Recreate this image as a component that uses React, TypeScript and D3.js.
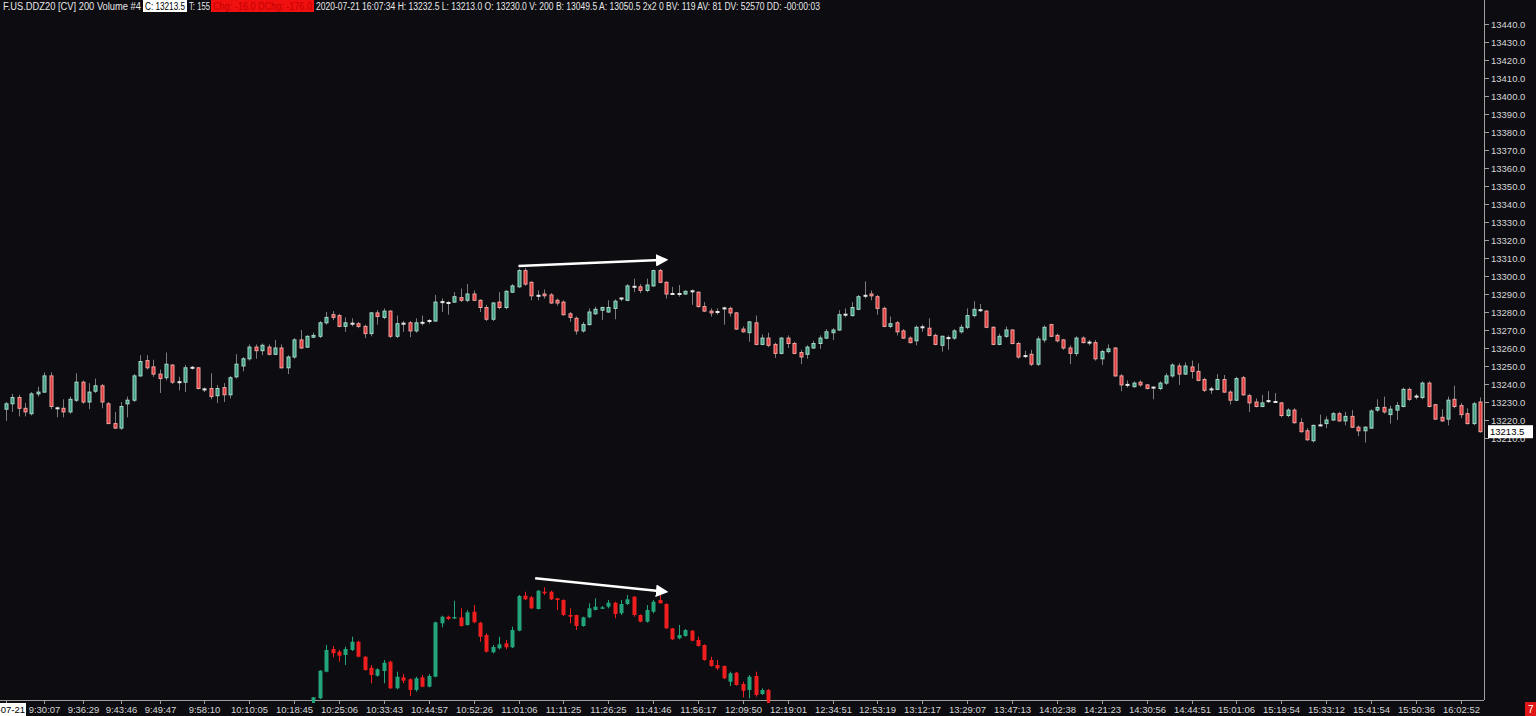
import React, { useEffect, useRef } from "react";
import * as d3 from "d3";

// main instrument bars: [open, high, low, close]
const mainBars: [number, number, number, number][] = [
  [13226, 13230, 13219.5, 13229], [13229, 13234.5, 13224.5, 13232.5], [13232.5, 13234, 13222, 13226.5],
  [13226.5, 13229.5, 13222, 13224.5], [13223.5, 13235.5, 13222.5, 13234.5], [13234.5, 13238.5, 13233, 13235.5],
  [13235.5, 13246.5, 13235, 13244.5], [13244.5, 13246.5, 13226, 13227.5], [13226.5, 13227.5, 13221.5, 13226.5],
  [13226.5, 13231.5, 13221.5, 13224.5], [13224.5, 13233, 13223.5, 13231.5], [13231, 13246, 13230, 13241],
  [13241, 13242, 13229, 13230], [13230, 13240.5, 13226, 13235.5], [13236, 13243, 13235, 13239],
  [13239, 13240, 13226.5, 13230], [13229, 13230, 13218, 13218], [13218, 13224.5, 13215, 13215.5],
  [13215.5, 13230, 13214.5, 13227.5], [13229, 13233, 13221.5, 13231], [13231, 13245.5, 13230, 13244.5],
  [13244.5, 13256, 13244, 13252.5], [13253, 13256, 13248, 13249], [13249.5, 13253.5, 13244, 13245.5],
  [13245.5, 13248, 13235, 13243], [13243.5, 13257.5, 13242, 13251], [13250.5, 13251, 13240, 13241],
  [13241, 13244, 13236.5, 13241], [13241, 13250.5, 13235.5, 13249], [13249, 13250, 13248, 13249],
  [13249, 13249.5, 13237, 13237.5], [13237.5, 13238, 13235.5, 13237], [13237.5, 13246, 13231.5, 13233],
  [13233.5, 13239.5, 13229.5, 13237.5], [13238, 13240.5, 13230, 13234], [13234, 13244.5, 13232, 13243.5],
  [13244, 13256.5, 13243, 13251], [13250, 13255, 13247, 13254], [13254, 13262, 13253, 13260.5],
  [13260.5, 13262, 13254, 13258.5], [13258.5, 13262.5, 13256, 13261.5], [13260.5, 13262, 13256, 13256.5],
  [13256.5, 13264.5, 13256, 13260], [13260, 13262, 13248.5, 13249], [13249, 13256, 13245.5, 13255],
  [13255, 13265.5, 13254, 13264.5], [13264.5, 13270, 13259.5, 13260], [13260.5, 13267, 13260, 13266.5],
  [13266, 13268.5, 13265.5, 13267], [13266.5, 13275, 13265.5, 13274], [13274, 13280, 13273, 13277],
  [13278.5, 13280.5, 13275.5, 13277], [13278, 13279, 13271.5, 13272], [13272, 13277, 13269, 13274],
  [13273.5, 13276.5, 13272, 13273.5], [13273.5, 13274.5, 13271, 13272], [13272, 13273, 13265.5, 13268],
  [13268, 13280, 13266.5, 13279.5], [13279.5, 13281, 13273, 13277.5], [13277, 13282, 13276, 13280.5],
  [13280.5, 13281, 13265.5, 13266.5], [13266.5, 13278, 13265.5, 13273.5], [13273.5, 13275, 13269, 13273.5],
  [13274, 13275, 13266, 13269.5], [13269.5, 13276.5, 13268.5, 13274], [13274, 13278, 13272.5, 13274],
  [13275, 13276, 13273.5, 13275], [13275, 13289.5, 13274.5, 13285.5], [13285.5, 13287.5, 13280, 13285.5],
  [13285, 13286, 13278.5, 13285], [13285.5, 13291, 13285, 13288.5], [13288, 13293, 13285.5, 13286.5],
  [13286.5, 13295.5, 13285.5, 13290], [13290, 13292, 13286, 13286.5], [13286.5, 13287, 13280, 13282.5],
  [13282.5, 13284, 13275, 13276], [13276, 13285.5, 13275, 13285], [13285.5, 13291, 13281.5, 13282.5],
  [13282.5, 13292, 13281.5, 13291.5], [13291, 13295.5, 13290.5, 13294.5], [13294, 13304, 13293.5, 13303],
  [13303, 13304.5, 13294.5, 13295.5], [13296.5, 13297, 13286.5, 13289], [13289, 13292, 13286.5, 13289],
  [13290, 13292.5, 13287.5, 13289], [13289.5, 13290.5, 13284.5, 13285], [13286.5, 13287.5, 13283.5, 13285],
  [13285.5, 13286.5, 13278, 13278.5], [13279, 13280, 13274.5, 13277], [13276.5, 13277.5, 13267.5, 13269.5],
  [13269.5, 13274.5, 13268.5, 13273], [13273, 13282, 13272.5, 13280], [13279, 13283, 13278.5, 13281.5],
  [13281, 13283, 13275.5, 13282.5], [13280, 13286.5, 13279.5, 13282.5], [13282, 13287, 13276, 13286],
  [13287, 13288, 13286, 13287.5], [13286.5, 13295.5, 13286, 13294.5], [13294, 13298.5, 13291, 13294],
  [13294, 13295.5, 13290.5, 13292], [13292, 13298.5, 13291, 13295], [13294.5, 13303.5, 13294, 13303],
  [13303, 13304, 13296, 13296.5], [13296.5, 13297, 13287.5, 13290], [13290, 13294, 13289.5, 13290],
  [13290, 13295, 13288.5, 13290], [13290, 13292, 13289.5, 13291.5], [13291.5, 13292.5, 13284, 13291.5],
  [13291, 13291.5, 13282.5, 13283], [13283, 13285.5, 13280, 13280.5], [13280.5, 13282, 13277.5, 13279.5],
  [13280, 13282, 13278.5, 13280], [13282, 13283, 13273, 13282], [13282, 13283, 13277.5, 13279.5],
  [13279.5, 13280, 13270, 13270.5], [13270.5, 13272, 13268.5, 13269], [13268.5, 13275, 13263.5, 13274.5],
  [13274, 13278, 13261.5, 13262], [13262, 13267.5, 13261.5, 13265.5], [13265.5, 13268.5, 13260.5, 13261.5],
  [13262, 13263, 13254.5, 13257], [13257, 13266, 13256.5, 13265.5], [13265.5, 13267, 13260, 13262.5],
  [13262.5, 13263.5, 13256.5, 13257], [13257.5, 13259, 13251, 13255], [13256.5, 13261.5, 13254, 13260.5],
  [13260, 13264, 13259.5, 13262.5], [13262.5, 13267, 13259.5, 13265.5], [13265.5, 13270.5, 13265, 13269],
  [13268.5, 13271, 13264.5, 13270], [13270, 13281, 13269.5, 13278.5], [13278.5, 13282, 13277, 13278.5],
  [13278, 13285.5, 13277.5, 13282.5], [13281.5, 13289.5, 13281, 13288.5], [13289, 13297, 13287.5, 13289],
  [13290, 13292, 13286.5, 13289], [13288.5, 13289.5, 13278.5, 13282], [13282, 13283, 13271.5, 13272],
  [13272, 13277.5, 13271, 13273.5], [13274, 13275, 13267, 13269], [13269.5, 13270.5, 13265, 13265.5],
  [13265.5, 13266.5, 13262.5, 13263], [13264, 13272.5, 13261.5, 13271.5], [13271.5, 13273, 13269, 13271.5],
  [13271, 13276.5, 13266.5, 13267], [13267, 13268, 13261.5, 13262], [13261.5, 13267, 13258, 13266.5],
  [13265.5, 13267, 13259, 13265.5], [13265.5, 13270.5, 13264.5, 13269.5], [13269, 13273, 13268, 13271.5],
  [13271.5, 13282, 13270.5, 13278], [13278, 13286, 13277, 13281.5], [13281, 13284.5, 13280, 13281],
  [13280.5, 13281, 13271, 13271.5], [13271.5, 13272, 13261.5, 13262], [13262, 13268, 13261.5, 13266.5],
  [13266.5, 13272, 13265.5, 13270], [13270, 13270.5, 13262, 13262.5], [13262.5, 13263.5, 13254, 13255],
  [13255.5, 13258.5, 13254.5, 13255.5], [13256.5, 13259, 13250, 13251], [13251, 13266.5, 13250, 13265],
  [13264.5, 13272.5, 13263, 13271.5], [13273, 13273.5, 13266, 13266.5], [13267, 13268, 13263, 13264],
  [13264.5, 13265, 13259, 13260], [13260, 13261.5, 13251, 13257], [13257, 13266.5, 13255.5, 13265.5],
  [13265.5, 13266.5, 13262.5, 13263], [13263, 13264.5, 13261.5, 13263], [13263, 13264.5, 13253, 13254],
  [13254, 13259, 13250.5, 13258], [13258, 13262, 13257, 13259.5], [13260, 13260.5, 13244, 13244.5],
  [13244.5, 13245.5, 13236, 13239.5], [13239.5, 13242, 13238, 13239.5], [13238.5, 13241.5, 13238, 13240.5],
  [13241, 13242, 13238.5, 13239.5], [13239.5, 13240, 13237, 13237.5], [13238, 13238.5, 13231.5, 13238],
  [13237.5, 13241.5, 13236.5, 13240.5], [13240.5, 13246, 13239.5, 13244.5], [13244.5, 13251.5, 13243.5, 13250.5],
  [13250, 13251.5, 13239.5, 13245.5], [13245.5, 13252, 13245, 13250], [13249.5, 13253, 13243, 13247],
  [13247, 13251.5, 13241.5, 13242], [13242.5, 13243.5, 13235.5, 13236.5], [13237, 13238.5, 13234.5, 13237],
  [13237, 13245.5, 13236.5, 13242.5], [13242.5, 13245, 13235, 13235.5], [13235.5, 13236.5, 13228.5, 13231],
  [13231, 13244, 13230.5, 13243], [13243.5, 13244.5, 13233.5, 13234], [13233.5, 13234.5, 13224.5, 13229.5],
  [13230, 13232, 13227, 13227.5], [13227.5, 13234, 13227, 13229.5], [13230.5, 13236, 13229.5, 13230.5],
  [13230, 13235, 13229.5, 13230], [13229.5, 13230, 13221.5, 13222.5], [13222.5, 13226.5, 13221.5, 13225.5],
  [13225.5, 13226.5, 13218, 13218.5], [13218.5, 13221, 13213, 13213.5], [13214, 13215.5, 13208.5, 13209],
  [13208.5, 13217.5, 13207.5, 13217], [13217, 13223, 13216.5, 13217], [13218, 13222, 13215.5, 13220],
  [13220, 13224.5, 13219.5, 13223.5], [13223.5, 13224.5, 13219, 13219.5], [13219.5, 13224.5, 13217, 13222],
  [13222, 13225.5, 13215.5, 13216], [13216, 13217, 13211, 13214], [13214, 13216.5, 13207.5, 13216],
  [13215.5, 13226, 13215, 13225], [13225.5, 13231.5, 13224.5, 13227], [13227, 13233, 13223.5, 13224.5],
  [13223, 13228, 13218, 13226], [13225.5, 13230, 13220, 13228], [13227.5, 13238, 13227, 13237],
  [13237, 13238, 13230.5, 13231.5], [13233, 13234.5, 13231.5, 13233], [13232.5, 13241.5, 13231.5, 13240.5],
  [13240.5, 13241.5, 13227, 13227.5], [13228.5, 13229, 13220, 13220.5], [13221.5, 13226, 13219, 13219.5],
  [13220.5, 13233, 13217, 13231], [13231.5, 13239, 13226.5, 13227.5], [13228, 13229.5, 13221, 13223],
  [13223.5, 13226.5, 13217.5, 13218], [13218, 13230, 13217, 13229], [13230, 13232.5, 13213, 13213.5],
];

// lower study bars (own scale), first bar sits under main bar #48
const studyStart = 48;
const studyBars: [number, number, number, number][] = [
  [-17, 30, -20, 27], [17, 300, 10, 293], [283, 550, 277, 500], [510, 540, 427, 467], [483, 500, 383, 443],
  [450, 533, 350, 510], [500, 633, 490, 583], [583, 593, 427, 433], [433, 440, 293, 300], [323, 350, 167, 250],
  [243, 317, 233, 307], [290, 400, 167, 373], [383, 393, 110, 117], [117, 283, 107, 233], [227, 260, 167, 193],
  [207, 217, 40, 100], [100, 233, 83, 217], [227, 250, 127, 133], [133, 260, 127, 240], [233, 783, 227, 777],
  [767, 843, 727, 833], [833, 843, 800, 810], [817, 993, 810, 830], [827, 917, 733, 740], [750, 900, 743, 877],
  [883, 950, 767, 777], [773, 783, 583, 633], [650, 667, 473, 483], [477, 550, 467, 530], [517, 633, 507, 557],
  [567, 600, 507, 527], [527, 733, 520, 700], [693, 1050, 687, 1040], [1043, 1083, 1000, 1007], [1027, 1040, 910, 917],
  [910, 1100, 905, 1093], [1083, 1127, 1050, 1067], [1083, 1093, 1000, 1007], [1017, 1020, 900, 1000], [1000, 1007, 840, 850],
  [850, 917, 767, 833], [850, 853, 700, 740], [740, 833, 733, 827], [827, 967, 817, 917], [900, 1017, 897, 933],
  [920, 940, 910, 927], [933, 1000, 917, 973], [973, 983, 817, 860], [867, 1000, 850, 960], [960, 1050, 950, 1007],
  [1033, 1040, 833, 850], [850, 857, 777, 783], [783, 950, 773, 900], [883, 1000, 867, 983], [1000, 1083, 965, 967],
  [960, 967, 710, 717], [717, 720, 600, 607], [617, 750, 607, 650], [640, 710, 633, 700], [693, 700, 587, 593],
  [600, 633, 533, 540], [550, 557, 393, 400], [400, 433, 333, 340], [350, 400, 300, 317], [340, 345, 210, 217],
  [183, 283, 140, 267], [273, 280, 143, 150], [160, 183, 27, 93], [100, 250, 17, 233], [240, 283, 33, 50],
  [60, 117, 50, 100], [100, 110, -30, 0],
];

const timeLabels = [
  "2020-07-21", "9:30:07", "9:36:29", "9:43:46", "9:49:47", "9:58:10", "10:10:05", "10:18:45", "10:25:06",
  "10:33:43", "10:44:57", "10:52:26", "11:01:06", "11:11:25", "11:26:25", "11:41:46", "11:56:17", "12:09:50",
  "12:19:01", "12:34:51", "12:53:19", "13:12:17", "13:29:07", "13:47:13", "14:02:38", "14:21:23", "14:30:56",
  "14:44:51", "15:01:06", "15:19:54", "15:33:12", "15:41:54", "15:50:36", "16:02:52",
];
const timeLabelBars = [
  0, 6, 12, 18, 24, 31, 38, 45, 52, 59, 66, 73, 80, 87, 94, 101, 108, 115, 122, 129, 136, 143, 150, 157, 164,
  171, 178, 185, 192, 199, 206, 213, 220, 227,
];

const priceTicks = d3.range(13210, 13441, 10);
const lastPrice = 13213.5;

// annotation arrows: [bar, value] start -> end
const mainArrow = [[80, 13305.5], [103, 13309]];
const studyArrow = [[82.6, 1217], [103, 1083]];

const headerMain = "F.US.DDZ20 [CV] 200 Volume  #4";
const headerClose = "C: 13213.5";
const headerTrades = "T: 155";
const headerChange = "Chg: -16.0 DChg: -176.0";
const headerRest =
  "2020-07-21 16:07:34 H: 13232.5 L: 13213.0 O: 13230.0 V: 200 B: 13049.5 A: 13050.5 2x2 0 BV: 119 AV: 81 DV: 52570 DD: -00:00:03";

const BG = "#0c0c11";
const FONT = "'Liberation Sans', Arial, sans-serif";

export default function App() {
  const svgRef = useRef<SVGSVGElement>(null);

  useEffect(() => {
    if (!svgRef.current) return;
    const svg = d3.select(svgRef.current);
    svg.selectAll("*").remove();

    const plotRight = 1484;
    const axisY = 700;

    const x = d3.scaleLinear().domain([0, 230]).range([5.7, 1480]);
    const y = d3.scaleLinear().domain([13210, 13440]).range([438, 24]);
    const ys = d3.scaleLinear().domain([0, 1400]).range([700, 560]);

    const defs = svg.append("defs");
    defs.append("clipPath").attr("id", "plot-clip")
      .append("rect").attr("x", 0).attr("y", 0).attr("width", plotRight).attr("height", axisY);
    defs.append("marker")
      .attr("id", "arrow-head")
      .attr("viewBox", "0 0 10 10")
      .attr("refX", 8).attr("refY", 5)
      .attr("markerWidth", 5).attr("markerHeight", 5)
      .attr("orient", "auto")
      .append("path").attr("d", "M0,0 L10,5 L0,10 z").attr("fill", "#ffffff");

    svg.append("rect").attr("width", 1536).attr("height", 716).attr("fill", BG);

    const plot = svg.append("g").attr("clip-path", "url(#plot-clip)");

    // --- main candles
    const main = plot.append("g");
    const mc = main.selectAll("g").data(mainBars).join("g");
    mc.append("line")
      .attr("x1", (_, i) => Math.round(x(i)) + 0.5)
      .attr("x2", (_, i) => Math.round(x(i)) + 0.5)
      .attr("y1", d => y(d[1]))
      .attr("y2", d => y(d[2]))
      .attr("stroke", "#7c7c7c")
      .attr("stroke-width", 1);
    mc.each(function (d, i) {
      const g = d3.select(this);
      const [o, , , c] = d;
      const cx = Math.round(x(i));
      if (Math.abs(c - o) < 0.75) {
        g.append("rect")
          .attr("x", cx - 1.5).attr("width", 4)
          .attr("y", y(c) - 1).attr("height", 2)
          .attr("fill", "#e8e8e8");
        return;
      }
      const up = c > o;
      const top = y(Math.max(o, c));
      const bot = y(Math.min(o, c));
      g.append("rect")
        .attr("x", cx - 1).attr("width", 3)
        .attr("y", top).attr("height", Math.max(1, bot - top))
        .attr("fill", up ? "#3c9c82" : "#e03a3a")
        .attr("stroke", up ? "#a6d9c8" : "#f2a3a3")
        .attr("stroke-width", 1);
    });

    // --- lower study candles
    const study = plot.append("g");
    const sc = study.selectAll("g").data(studyBars).join("g");
    sc.each(function (d, k) {
      const g = d3.select(this);
      const [o, h, l, c] = d;
      const cx = Math.round(x(k + studyStart));
      const col = c >= o ? "#23a47a" : "#f01e1e";
      g.append("line")
        .attr("x1", cx + 0.5).attr("x2", cx + 0.5)
        .attr("y1", ys(h)).attr("y2", ys(l))
        .attr("stroke", col).attr("stroke-width", 1);
      const top = ys(Math.max(o, c));
      const bot = ys(Math.min(o, c));
      g.append("rect")
        .attr("x", cx - 1.5).attr("width", 4)
        .attr("y", top).attr("height", Math.max(1.5, bot - top))
        .attr("fill", col);
    });

    // --- arrows
    const arrows = [
      { pts: mainArrow, sy: y },
      { pts: studyArrow, sy: ys },
    ];
    arrows.forEach(a => {
      plot.append("line")
        .attr("x1", x(a.pts[0][0])).attr("y1", a.sy(a.pts[0][1]))
        .attr("x2", x(a.pts[1][0])).attr("y2", a.sy(a.pts[1][1]))
        .attr("stroke", "#ffffff")
        .attr("stroke-width", 2.5)
        .attr("marker-end", "url(#arrow-head)");
    });

    // --- frame lines
    svg.append("line")
      .attr("x1", plotRight + 0.5).attr("x2", plotRight + 0.5)
      .attr("y1", 0).attr("y2", axisY)
      .attr("stroke", "#a0a0a0");
    svg.append("line")
      .attr("x1", 0).attr("x2", plotRight)
      .attr("y1", axisY + 0.5).attr("y2", axisY + 0.5)
      .attr("stroke", "#a0a0a0");

    // --- price axis
    const pa = svg.append("g")
      .attr("transform", `translate(${plotRight + 1},0)`)
      .call(
        d3.axisRight(y)
          .tickValues(priceTicks)
          .tickSize(4)
          .tickPadding(2)
          .tickFormat(d => (d as number).toFixed(1))
      )
      .call(g => g.select(".domain").remove());
    pa.selectAll("line").attr("stroke", "#a0a0a0");
    pa.selectAll("text")
      .attr("fill", "#d6d6d6")
      .attr("font-size", "9.5px")
      .attr("font-family", FONT);

    // last price tag
    const lp = svg.append("g").attr("transform", `translate(1488,${y(lastPrice)})`);
    lp.append("rect").attr("x", 0).attr("y", -6.5).attr("width", 45).attr("height", 13).attr("fill", "#ffffff");
    lp.append("text").attr("x", 2).attr("y", 3.5)
      .attr("font-size", "9.5px").attr("font-family", FONT).attr("fill", "#000")
      .text(lastPrice.toFixed(1));

    // --- time axis
    const ta = svg.append("g").attr("transform", `translate(0,${axisY + 1})`);
    timeLabelBars.forEach((b, i) => {
      const px = Math.round(x(b)) + 0.5;
      ta.append("line").attr("x1", px).attr("x2", px).attr("y1", 0).attr("y2", 3).attr("stroke", "#a0a0a0");
      if (i === 0) {
        // date tag is pinned to the left edge and runs off it
        ta.append("rect").attr("x", -30).attr("y", 2).attr("width", 56).attr("height", 13).attr("fill", "#ffffff");
        ta.append("text").attr("x", 25).attr("y", 12)
          .attr("text-anchor", "end").attr("font-size", "9.5px").attr("font-family", FONT)
          .attr("fill", "#000").text(timeLabels[i]);
      } else {
        ta.append("text").attr("x", px).attr("y", 12)
          .attr("text-anchor", "middle").attr("font-size", "9.5px").attr("font-family", FONT)
          .attr("fill", "#d6d6d6").text(timeLabels[i]);
      }
    });
    // study range markers
    ta.append("rect").attr("x", Math.round(x(studyStart)) - 1).attr("y", -1).attr("width", 3).attr("height", 3).attr("fill", "#23a47a");
    ta.append("rect").attr("x", Math.round(x(studyStart + studyBars.length - 1)) - 1).attr("y", -1).attr("width", 3).attr("height", 3).attr("fill", "#f01e1e");

    svg.append("rect").attr("x", 1525).attr("y", 702).attr("width", 11).attr("height", 14).attr("fill", "#e01515");
    svg.append("text").attr("x", 1528).attr("y", 713)
      .attr("font-size", "10px").attr("font-family", FONT).attr("fill", "#fff").text("7");

    // --- header line
    const hd = svg.append("g").attr("font-family", FONT).attr("font-size", "10px");
    hd.append("text").attr("x", 3).attr("y", 9.5).attr("fill", "#e6e6e6")
      .attr("textLength", 138).attr("lengthAdjust", "spacingAndGlyphs").text(headerMain);
    hd.append("rect").attr("x", 143).attr("y", 0).attr("width", 44).attr("height", 12).attr("fill", "#ffffff");
    hd.append("text").attr("x", 145).attr("y", 9.5).attr("fill", "#000")
      .attr("textLength", 40).attr("lengthAdjust", "spacingAndGlyphs").text(headerClose);
    hd.append("text").attr("x", 189).attr("y", 9.5).attr("fill", "#e6e6e6")
      .attr("textLength", 21).attr("lengthAdjust", "spacingAndGlyphs").text(headerTrades);
    hd.append("rect").attr("x", 211).attr("y", 0).attr("width", 103).attr("height", 12).attr("fill", "#f01010");
    hd.append("text").attr("x", 213).attr("y", 9.5).attr("fill", "#c40000")
      .attr("textLength", 99).attr("lengthAdjust", "spacingAndGlyphs").text(headerChange);
    hd.append("text").attr("x", 316).attr("y", 9.5).attr("fill", "#e6e6e6")
      .attr("textLength", 504).attr("lengthAdjust", "spacingAndGlyphs").text(headerRest);
  }, []);

  return (
    <div style={{ position: "fixed", left: 0, top: 0, width: 1536, height: 716, background: BG, overflow: "hidden" }}>
      <svg ref={svgRef} width={1536} height={716} style={{ display: "block" }} />
    </div>
  );
}
